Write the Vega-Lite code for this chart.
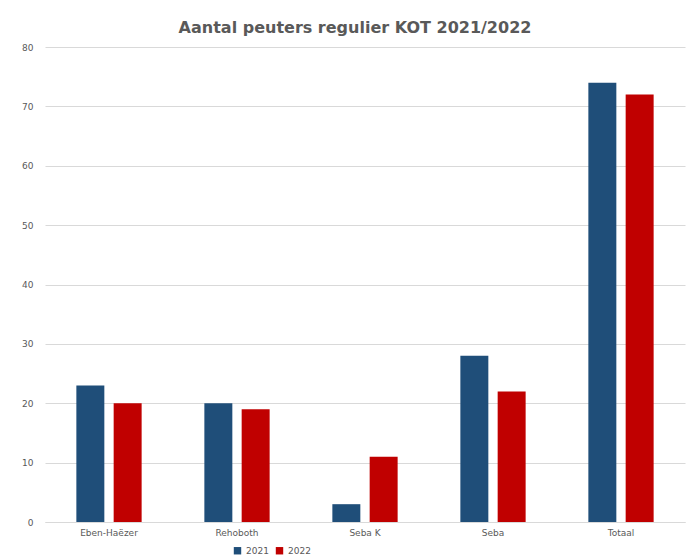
{
  "$schema": "https://vega.github.io/schema/vega-lite/v6.json",
  "autosize": {"type": "none"},
  "width": 640,
  "height": 475,
  "padding": {"left": 45, "top": 47, "right": 6, "bottom": 34},
  "background": "white",
  "title": {
    "text": "Aantal peuters regulier KOT 2021/2022",
    "font": "DejaVu Sans",
    "fontSize": 16,
    "fontWeight": "bold",
    "color": "#595959",
    "anchor": "middle",
    "dx": -10,
    "offset": 7
  },
  "data": {
    "values": [
      {"locatie": "Eben-Haëzer", "jaar": "2021", "aantal": 23},
      {"locatie": "Eben-Haëzer", "jaar": "2022", "aantal": 20},
      {"locatie": "Rehoboth", "jaar": "2021", "aantal": 20},
      {"locatie": "Rehoboth", "jaar": "2022", "aantal": 19},
      {"locatie": "Seba K", "jaar": "2021", "aantal": 3},
      {"locatie": "Seba K", "jaar": "2022", "aantal": 11},
      {"locatie": "Seba", "jaar": "2021", "aantal": 28},
      {"locatie": "Seba", "jaar": "2022", "aantal": 22},
      {"locatie": "Totaal", "jaar": "2021", "aantal": 74},
      {"locatie": "Totaal", "jaar": "2022", "aantal": 72}
    ]
  },
  "mark": {"type": "bar"},
  "encoding": {
    "x": {
      "field": "locatie",
      "type": "nominal",
      "sort": ["Eben-Haëzer", "Rehoboth", "Seba K", "Seba", "Totaal"],
      "scale": {"paddingInner": 0.49, "paddingOuter": 0.245},
      "axis": {
        "title": null,
        "labelAngle": 0,
        "ticks": false,
        "domain": true,
        "domainColor": "#D9D9D9",
        "labelFont": "DejaVu Sans",
        "labelFontSize": 9,
        "labelColor": "#595959",
        "labelPadding": 6
      }
    },
    "xOffset": {
      "field": "jaar",
      "type": "nominal",
      "scale": {"paddingInner": 0.25, "paddingOuter": 0}
    },
    "y": {
      "field": "aantal",
      "type": "quantitative",
      "scale": {"domain": [0, 80]},
      "axis": {
        "title": null,
        "values": [0, 10, 20, 30, 40, 50, 60, 70, 80],
        "ticks": false,
        "domain": false,
        "gridColor": "#D9D9D9",
        "labelFont": "DejaVu Sans",
        "labelFontSize": 9,
        "labelColor": "#595959",
        "labelPadding": 12
      }
    },
    "color": {
      "field": "jaar",
      "type": "nominal",
      "scale": {"domain": ["2021", "2022"], "range": ["#1F4E79", "#C00000"]},
      "legend": {
        "title": null,
        "orient": "none",
        "direction": "horizontal",
        "legendX": 188,
        "legendY": 499,
        "symbolType": "square",
        "symbolSize": 55,
        "labelFont": "DejaVu Sans",
        "labelFontSize": 9,
        "labelColor": "#595959",
        "columnPadding": 6
      }
    }
  },
  "config": {"view": {"stroke": null}}
}
